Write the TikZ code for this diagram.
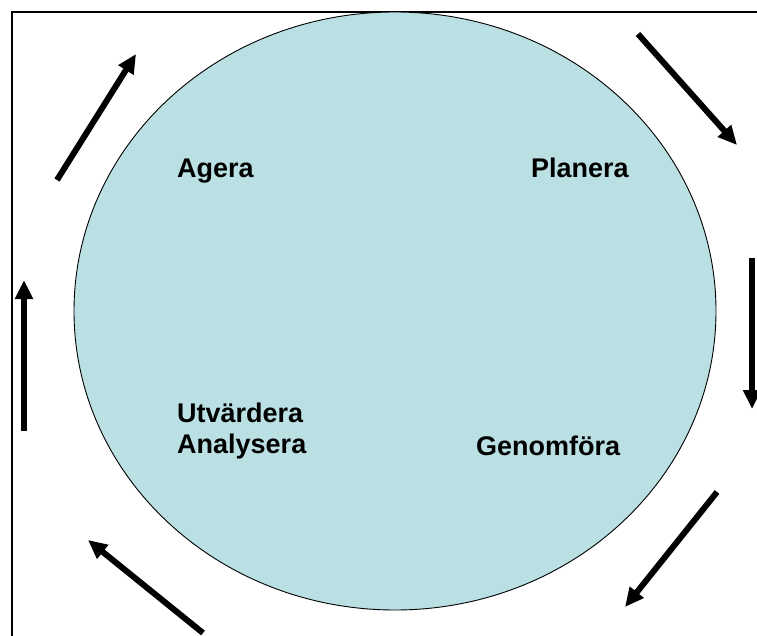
\documentclass[tikz,border=0pt]{standalone}
\usepackage{fontspec}
\setmainfont{Liberation Sans}
\usepackage{tikz}
\usetikzlibrary{arrows.meta, positioning, shapes.geometric}
\definecolor{cycleblue}{RGB}{186,224,227}

\begin{document}
\begin{tikzpicture}[
    x=1pt, y=-1pt,
    font          = \fontsize{27}{31}\selectfont\bfseries,
    lbl/.style    = {anchor=base west, inner sep=0pt, align=left},
    arr/.style    = {-{Triangle[length=19pt, width=17pt]}, line width=6pt},
  ]
  \useasboundingbox (0,0) rectangle (757,636);
  \clip (0,0) rectangle (757,636);
  % frame, right and bottom edges run off the page
  \draw[line width=2pt] (12,12) rectangle (800,680);
  % the cycle
  \node[draw, ellipse, fill=cycleblue, line width=0.9pt,
        minimum width=642pt, minimum height=598pt, inner sep=0pt] (cyc) at (395,311) {};
  \node[lbl] (agera)   at (177,178) {Agera};
  \node[lbl] (planera) at (531,178) {Planera};
  \node[lbl] (utv)     at (177,422) {Utvärdera};
  \node[lbl] (anal)    at (177,453) {Analysera};
  \node[lbl] (genom)   at (476,455) {Genomföra};
  % arrow ends round the cycle
  \coordinate (a1) at (57,180);  \coordinate (b1) at (136,54);
  \coordinate (a2) at (638,34);  \coordinate (b2) at (737,145);
  \coordinate (a3) at (752,258); \coordinate (b3) at (752,409);
  \coordinate (a4) at (717,492); \coordinate (b4) at (625,607);
  \coordinate (a5) at (203,633); \coordinate (b5) at (88,540);
  \coordinate (a6) at (24,431);  \coordinate (b6) at (24,280);
  \foreach \i in {1,...,6}
    \draw[arr] (a\i) -- (b\i);
\end{tikzpicture}
\end{document}
